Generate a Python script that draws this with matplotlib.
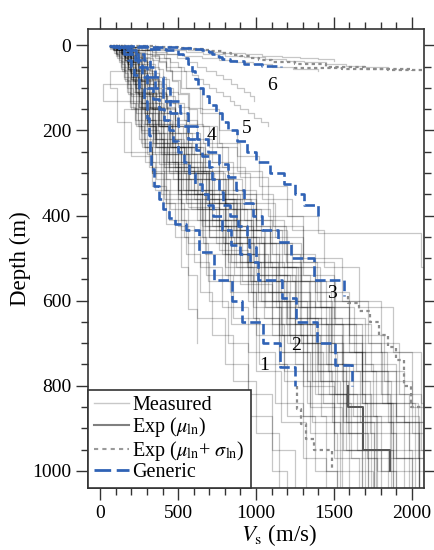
import numpy as np
import matplotlib
matplotlib.use('Agg')
import matplotlib.pyplot as plt
from matplotlib.lines import Line2D
from matplotlib.ticker import MultipleLocator

plt.rcParams['font.family'] = ['Liberation Serif', 'DejaVu Serif']
plt.rcParams['mathtext.fontset'] = 'stix'

# measured profiles, shared layer grids (depth in m, Vs in m/s)
grid_a = [0, 5, 12, 25, 40, 60, 85, 115, 150, 190, 240, 300, 370, 450, 540, 640, 750, 870, 1000, 1040]
meas_a = [
    [80, 110, 140, 160, 180, 200, 230, 260, 300, 350, 420, 520, 650, 800, 980, 1150, 1300, 1450, 1600],
    [120, 150, 190, 210, 240, 260, 300, 340, 390, 460, 560, 700, 880, 1050, 1250, 1450, 1620, 1800, 1950],
    [150, 200, 240, 280, 320, 350, 390, 430, 480, 560, 660, 800, 980, 1150, 1350, 1550, 1750, 1950, 2050],
    [70, 90, 120, 140, 160, 180, 200, 230, 260, 290, 330, 400, 480, 560, 620, 800, 950, 1100, 1200],
    [200, 260, 320, 380, 420, 460, 500, 560, 620, 700, 820, 960, 1120, 1300, 1500, 1700, 1900, 2050, 2100],
    [100, 140, 170, 200, 220, 250, 280, 320, 370, 430, 520, 650, 820, 1000, 1200, 1400, 1580],
    [130, 170, 210, 240, 270, 300, 340, 380, 430, 500, 600, 730, 900],
    [90, 120, 150, 170, 190, 210, 240, 270, 310, 360, 440, 550, 700, 860, 1050, 1250, 1420, 1600, 1750],
    [110, 140, 180, 200, 230, 260, 290, 330, 380, 450, 540, 680, 850, 1020, 1220, 1420, 1600, 1780, 1900],
    [60, 80, 100, 120, 140, 160, 180, 200, 230, 270, 330, 420, 540, 680, 850, 1020, 1200, 1380, 1520],
]
grid_b = [0, 8, 18, 30, 50, 75, 100, 135, 175, 220, 275, 340, 410, 490, 580, 680, 790, 910, 1040]
meas_b = [
    [90, 130, 160, 180, 200, 220, 250, 290, 340, 400, 500, 640, 800, 970, 1170, 1360, 1540, 1720],
    [140, 180, 210, 240, 260, 290, 330, 380, 440, 520, 640, 800, 970, 1150, 1350, 1550, 1730, 1900],
    [170, 220, 260, 300, 330, 370, 420, 480, 550, 640, 760, 920, 1100, 1280, 1480, 1680, 1870, 2050],
    [80, 100, 130, 150, 170, 190, 210, 240, 280, 330, 410, 520, 670, 830, 1000, 1180, 1350, 1520],
    [120, 160, 190, 210, 230, 260, 290, 340, 390, 460, 570, 720, 890, 1080, 1280, 1480],
    [100, 130, 160, 180, 200, 230, 260, 300, 350, 410, 500, 620, 780, 950, 1150, 1330, 1500, 1680],
    [200, 250, 300, 340, 380, 420, 470, 540, 620, 720, 850, 1000, 1180, 1380, 1600, 1820, 2000, 2100],
    [60, 90, 110, 130, 150, 170, 190, 220, 250, 290, 350, 440, 550, 640, 720, 850, 1000, 1150],
    [150, 190, 220, 250, 280, 310, 350, 400, 460, 540, 650, 800, 980],
    [110, 140, 170, 190, 210, 240, 270, 310, 360, 430, 530, 670, 840, 1010, 1210, 1410, 1590, 1760],
]
grid_c = [0, 3, 10, 20, 35, 55, 80, 110, 145, 185, 230, 285, 350, 425, 510, 600, 700, 820, 950, 1040]
meas_c = [
    [100, 130, 170, 190, 210, 240, 270, 310, 350, 410, 500, 630, 800, 980, 1180, 1380, 1560, 1740, 1880],
    [70, 100, 130, 150, 170, 190, 210, 240, 270, 320, 390, 500, 650, 820, 1010, 1200, 1380, 1560, 1720],
    [130, 170, 200, 230, 260, 290, 320, 360, 410, 480, 580, 720, 900, 1090, 1290, 1490, 1680, 1860, 2000],
    [180, 240, 290, 330, 370, 400, 440, 500, 570, 660, 780, 930, 1110, 1300, 1500, 1720, 1920, 2060, 2100],
    [90, 110, 140, 160, 180, 200, 220, 250, 290, 340, 410, 520, 670, 840, 1030, 1220, 1400, 1580, 1740],
    [120, 160, 190, 210, 240, 260, 300, 340, 390, 460, 560, 700, 880],
    [80, 110, 140, 160, 180, 210, 230, 270, 300, 360, 440, 560, 720, 900, 1100, 1290, 1470, 1650, 1800],
    [150, 200, 240, 270, 300, 330, 370, 420, 480, 560, 670, 820, 1000, 1190, 1390, 1600, 1800, 1980, 2080],
    [100, 140, 160, 180, 200, 230, 250, 290, 330, 390, 480, 600, 760, 940, 1140, 1330, 1510, 1700, 1850],
    [60, 80, 100, 120, 130, 150, 170, 190, 220, 260, 310, 390, 500, 600, 700, 820, 950, 1100, 1250],
]
grid_d = [0, 6, 15, 28, 45, 65, 90, 120, 160, 205, 255, 315, 385, 465, 555, 655, 765, 885, 1040]
meas_d = [
    [110, 150, 180, 200, 220, 240, 270, 300, 350, 410, 500, 620, 790, 960, 1160, 1360, 1560, 1760],
    [150, 190, 230, 260, 290, 320, 360, 410, 470, 550, 660, 810, 1000, 1200, 1420, 1640, 1850, 2050],
    [90, 120, 150, 170, 190, 210, 230, 260, 300, 350, 420, 520, 660, 820, 1000, 1180, 1360, 1540],
    [180, 230, 280, 320, 350, 380, 420, 480, 550, 640, 760, 910, 1090, 1290, 1510, 1740, 1950, 2100],
    [70, 100, 120, 140, 160, 180, 200, 230, 260, 300, 360, 450, 560, 690, 840, 1000, 1160, 1320],
    [130, 170, 200, 220, 250, 280, 310, 350, 400, 470, 570, 700, 870, 1050, 1250, 1460, 1670, 1880],
    [100, 130, 160, 180, 200, 220, 250, 280, 330, 390, 470, 580, 740, 910, 1100, 1300, 1490, 1680],
    [160, 210, 250, 280, 310, 340, 380, 430, 500, 590, 700, 850, 1030, 1230, 1450, 1680, 1900, 2080],
    [120, 150, 180, 200, 220, 250, 280, 320, 370, 430, 520, 650, 810, 990, 1190, 1390, 1580, 1770],
    [140, 180, 220, 250, 280, 300, 340, 390, 450, 520, 620, 760, 940, 1130, 1340, 1560, 1770, 1980],
]
grid_e = [0, 4, 12, 22, 38, 58, 82, 112, 148, 190, 238, 295, 360, 435, 520, 615, 720, 840, 970, 1040]
meas_e = [
    [100, 140, 170, 190, 210, 230, 260, 300, 340, 400, 480, 600, 760, 940, 1130, 1330, 1520, 1710, 1870],
    [160, 200, 240, 270, 300, 330, 370, 420, 480, 560, 670, 820, 1000, 1200, 1410, 1630, 1840, 2040, 2100],
    [80, 110, 140, 160, 180, 200, 220, 250, 290, 340, 400, 500, 640, 800, 980, 1160, 1330, 1500, 1660],
    [130, 170, 200, 230, 250, 280, 310, 360, 410, 480, 580, 720, 900, 1090, 1290, 1500, 1700, 1900, 2050],
    [200, 270, 330, 380, 420, 460, 510, 570, 650, 750, 880, 1040, 1230, 1440, 1660, 1880, 2060, 2100, 2120],
    [90, 120, 150, 170, 190, 210, 240, 270, 310, 360, 440, 550, 700, 870, 1060, 1250, 1430, 1610, 1780],
    [110, 150, 180, 200, 220, 250, 280, 320, 370, 440, 540, 680, 860, 1050, 1260, 1470, 1680, 1880, 2020],
    [60, 90, 110, 130, 150, 170, 190, 210, 240, 280, 330, 410, 520, 640, 780, 950, 1120, 1300, 1450],
    [140, 180, 210, 240, 270, 300, 340, 390, 450, 530, 640, 790, 970, 1170, 1380, 1600, 1810, 2020, 2100],
    [120, 160, 190, 210, 230, 260, 290, 330, 380, 450, 550, 690, 870, 1060, 1270, 1480, 1680, 1870, 2000],
]
# measured profiles with their own layering
extra_depth = [
    [0, 15, 40, 90, 130, 200, 280, 380, 480, 600, 720, 850, 1040],
    [0, 30, 80, 150, 250, 350, 450, 560, 680, 800, 950, 1040],
    [0, 10, 20, 30, 40, 50, 60, 70, 80, 90, 100, 110, 120, 130, 140, 150, 160, 170, 180, 190],
    [0, 10, 20, 30, 40, 50, 60, 70, 80, 90, 100, 110, 120, 130],
    [0, 3, 6, 9, 12, 15, 18, 21, 24, 27, 30, 33, 36],
    [0, 4, 8, 12, 16, 20, 24, 28, 32, 36, 40, 44, 48, 52, 56],
    [0, 10, 30, 60, 100, 150, 200, 260, 330, 400, 440, 520, 620, 740, 870, 1040],
    [0, 20, 50, 100, 160, 230, 310, 400, 500, 600, 720, 850, 1040],
    [0, 20, 60, 100, 180, 260, 330, 420, 520, 620, 700],
    [0, 5, 10, 15, 20, 25, 30, 35, 40, 45, 50, 55, 60],
]
extra_vs = [
    [120, 180, 240, 20, 260, 380, 560, 760, 950, 1150, 1350, 1550],
    [200, 300, 380, 150, 500, 700, 900, 1100, 1300, 1500, 1700],
    [300, 360, 410, 450, 500, 540, 590, 630, 660, 700, 740, 790, 830, 860, 900, 950, 990, 1030, 1080],
    [350, 420, 490, 560, 620, 680, 740, 790, 840, 880, 920, 960, 990],
    [200, 320, 450, 560, 690, 800, 930, 1040, 1170, 1280, 1400, 1500],
    [150, 290, 410, 550, 660, 800, 920, 1060, 1190, 1310, 1450, 1580, 1700, 1850],
    [250, 350, 450, 550, 650, 760, 880, 1020, 1200, 1400, 2060, 2080, 2100, 2120, 2150],
    [300, 420, 520, 640, 760, 900, 1080, 1300, 1550, 1800, 2000, 2100],
    [100, 150, 60, 110, 200, 330, 420, 520, 560, 620],
    [120, 220, 330, 430, 540, 650, 760, 870, 980, 1100, 1240, 1400],
]

# generic profiles 1-6
g1_depth = [0, 5, 10, 20, 35, 50, 70, 100, 130, 170, 210, 250, 290, 330, 360, 385, 405, 420, 435, 485, 552, 600, 651, 700, 757, 800]
g1_vs = [80, 120, 150, 175, 195, 215, 250, 280, 300, 310, 318, 325, 345, 375, 405, 440, 480, 550, 637, 733, 849, 907, 1042, 1151, 1248]
g2_depth = [0, 5, 10, 20, 35, 50, 75, 100, 125, 150, 175, 200, 225, 250, 275, 300, 325, 350, 375, 400, 435, 470, 490, 510, 552, 594, 651, 700, 752, 800]
g2_vs = [100, 150, 190, 220, 245, 265, 300, 340, 380, 410, 440, 470, 500, 535, 570, 610, 650, 690, 725, 780, 840, 900, 960, 1015, 1164, 1260, 1395, 1505, 1614]
g3_depth = [0, 5, 10, 20, 35, 50, 75, 100, 130, 160, 190, 220, 250, 280, 310, 340, 370, 400, 435, 462, 500, 552, 590]
g3_vs = [130, 180, 230, 280, 320, 350, 400, 450, 510, 560, 620, 690, 760, 820, 870, 920, 980, 1040, 1140, 1225, 1375, 1565]
g4_depth = [0, 5, 10, 20, 35, 50, 75, 100, 130, 160, 190, 220, 245, 260, 285, 315, 345, 375, 400, 425, 450, 475, 500]
g4_vs = [110, 160, 200, 240, 270, 300, 350, 400, 450, 500, 560, 617, 656, 701, 720, 765, 785, 830, 885, 939, 958, 1000]
g5_depth = [0, 4, 8, 12, 20, 30, 45, 60, 80, 100, 120, 140, 160, 180, 200, 225, 250, 275, 300, 325, 350, 375, 400]
g5_vs = [150, 300, 420, 500, 530, 560, 590, 610, 630, 660, 700, 740, 780, 820, 880, 940, 1000, 1090, 1180, 1250, 1310, 1400]
g6_depth = [0, 1, 2, 3, 4, 6, 8, 10, 13, 16, 20, 24, 28, 33, 38, 43, 48, 52]
g6_vs = [60, 180, 300, 420, 520, 600, 650, 680, 700, 720, 740, 760, 780, 830, 920, 1040, 1160]

label_text = ['1', '2', '3', '4', '5', '6']
label_vs = [1055, 1260, 1485, 714, 939, 1106]
label_depth = [752, 705, 583, 211, 195, 94]

# extrapolated parts
exp_mu_depth = [800, 850, 950, 1000]
exp_mu_vs = [1590, 1690, 1860]
exp_sig1_depth = [800, 855, 890, 925, 952, 1000]
exp_sig1_vs = [1265, 1290, 1320, 1370, 1490]
exp_sig3_depth = [590, 605, 625, 650, 680, 710, 740, 800, 850, 1000]
exp_sig3_vs = [1590, 1660, 1730, 1790, 1850, 1900, 1950, 1995, 2200]
exp_sig6_depth = [52, 53, 54, 55, 56, 57, 58, 59, 60]
exp_sig6_vs = [1250, 1400, 1550, 1700, 1850, 2000, 2150, 2300]
exp_sig6b_depth = [0, 2, 4, 6, 8, 11, 14, 18, 22, 26, 30, 35, 40, 45, 50, 55, 60]
exp_sig6b_vs = [150, 350, 500, 600, 660, 720, 780, 840, 900, 960, 1020, 1100, 1250, 1450, 1700, 2000]


def stair(depth, vs):
    n = len(vs)
    d = np.asarray(depth, float)
    x = np.repeat(np.asarray(vs, float), 2)
    y = np.empty(2 * n)
    y[0::2] = d[:n]
    y[1::2] = d[1:n + 1]
    return x, y


fig = plt.figure(figsize=(4.35, 5.5), dpi=100)
ax = fig.add_axes([0.202, 0.113, 0.773, 0.834])

meas_kw = dict(color='black', alpha=0.22, lw=0.9, zorder=1)
for grid, group in [(grid_a, meas_a), (grid_b, meas_b), (grid_c, meas_c),
                    (grid_d, meas_d), (grid_e, meas_e)]:
    for vs in group:
        ax.plot(*stair(grid, vs), **meas_kw)
for d, vs in zip(extra_depth, extra_vs):
    ax.plot(*stair(d, vs), **meas_kw)

ax.plot(*stair(exp_mu_depth, exp_mu_vs), color='#555555', lw=1.4, zorder=2)
for d, vs in [(exp_sig1_depth, exp_sig1_vs), (exp_sig3_depth, exp_sig3_vs),
              (exp_sig6_depth, exp_sig6_vs), (exp_sig6b_depth, exp_sig6b_vs)]:
    ax.plot(*stair(d, vs), color='#8c8c8c', lw=1.6, ls=(0, (1.5, 1.5)), zorder=2)

blue = '#2f62b5'
for d, vs in [(g1_depth, g1_vs), (g2_depth, g2_vs), (g3_depth, g3_vs),
              (g4_depth, g4_vs), (g5_depth, g5_vs), (g6_depth, g6_vs)]:
    ax.plot(*stair(d, vs), color=blue, lw=1.9, ls=(0, (4, 1.6)), zorder=3)

for t, x, y in zip(label_text, label_vs, label_depth):
    ax.text(x, y, t, fontsize=14, ha='center', va='center', zorder=4)

ax.set_xlim(-80, 2080)
ax.set_ylim(1040, -38)
ax.xaxis.set_major_locator(MultipleLocator(500))
ax.xaxis.set_minor_locator(MultipleLocator(100))
ax.yaxis.set_major_locator(MultipleLocator(200))
ax.yaxis.set_minor_locator(MultipleLocator(50))
ax.tick_params(which='both', direction='out', top=True, right=True,
               color='#333333', width=1.0, labelsize=14)
ax.tick_params(which='major', length=8.5)
ax.tick_params(which='minor', length=5)
for s in ax.spines.values():
    s.set_color('#333333')
    s.set_linewidth(1.2)

ax.set_xlabel(r'$V_\mathrm{s}$ (m/s)', fontsize=16.5)
ax.xaxis.set_label_coords(0.568, -0.075)
ax.set_ylabel('Depth (m)', fontsize=16.5, labelpad=1)

handles = [
    Line2D([], [], color='#c8c8c8', lw=1.0),
    Line2D([], [], color='#808080', lw=1.5),
    Line2D([], [], color='#9a9a9a', lw=1.5, ls=(0, (2, 2))),
    Line2D([], [], color=blue, lw=2, ls=(0, (6, 2))),
]
labels = ['Measured', r'Exp ($\mu_\mathrm{ln}$)',
          r'Exp ($\mu_\mathrm{ln}$+ $\sigma_\mathrm{ln}$)', 'Generic']
leg = ax.legend(handles, labels, loc='lower left', bbox_to_anchor=(0, 0),
                fontsize=14.5, frameon=True, fancybox=False, framealpha=1,
                edgecolor='#333333', handlelength=1.75, handletextpad=0.15,
                labelspacing=0.0, borderpad=0.3, borderaxespad=0)
leg.get_frame().set_linewidth(1.2)
leg.set_zorder(5)

fig.savefig('out.png', dpi=100)
